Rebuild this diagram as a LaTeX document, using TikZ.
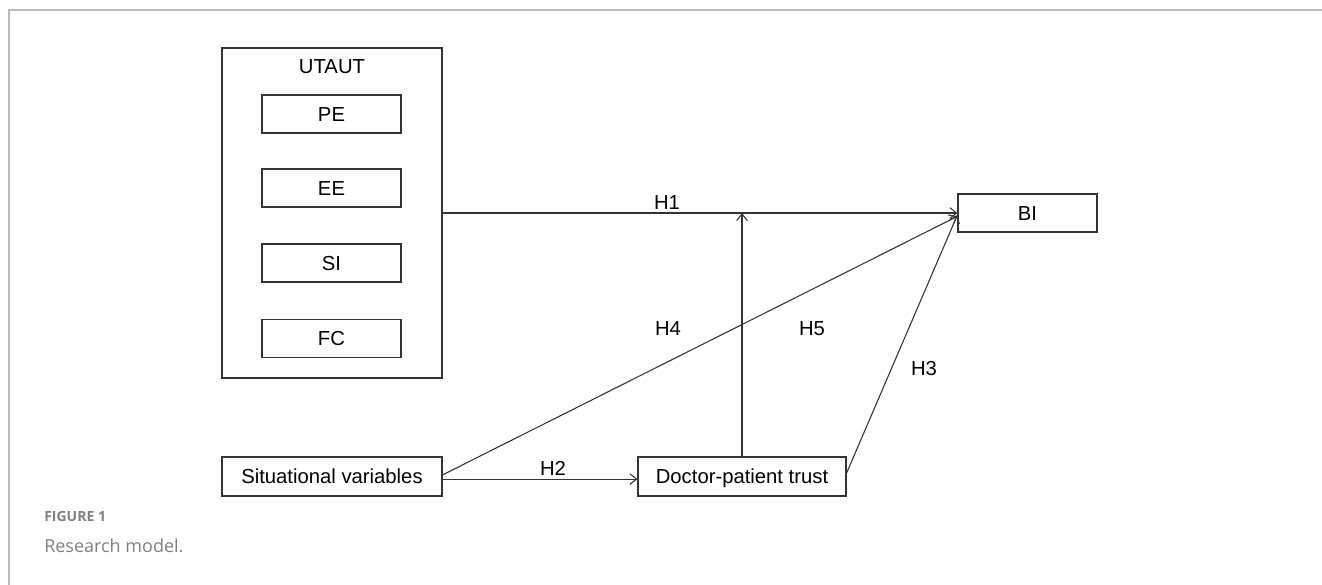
\documentclass[tikz,border=0pt]{standalone}
\usepackage{fontspec}
\setmainfont{Liberation Sans}
\newfontfamily\capfont{Open Sans}
\usetikzlibrary{arrows.meta}
\definecolor{ln}{HTML}{333333}
\definecolor{framec}{HTML}{BBBBBB}
\definecolor{capc}{HTML}{808080}
\tikzset{
  box/.style={draw=ln, line width=0.9pt, rectangle, inner sep=0pt, minimum width=104.25pt, minimum height=28.5pt, text height=10.9pt, text depth=0pt, font=\fontsize{15.2}{18}\selectfont},
  lbl/.style={inner sep=0pt, text height=10.9pt, text depth=0pt, font=\fontsize{15.2}{18}\selectfont},
  conn/.style={draw=ln, line width=0.8pt, -{Straight Barb[length=5pt,width=8pt]}},
}
\begin{document}
\begin{tikzpicture}[x=0.75pt, y=-0.75pt]
\useasboundingbox (0,0) rectangle (1322,585);
\draw[framec, line width=1.5pt] (9,585) -- (9,10) -- (1322,10);
% UTAUT group
\node[box, minimum width=165pt, minimum height=247.5pt] (utaut) at (332,213) {};
\node[lbl] (utautlbl) at (332,66) {UTAUT};
\node[box] (pe) at (331.5,114) {PE};
\node[box] (ee) at (331.5,188) {EE};
\node[box] (si) at (331.5,263) {SI};
\node[box] (fc) at (331.5,338.5) {FC};
% other constructs
\node[box] (bi) at (1027.5,213) {BI};
\node[box, minimum width=165pt, minimum height=29.25pt] (sv) at (332,476.5) {Situational variables};
\node[box, minimum width=156pt, minimum height=29.25pt] (dpt) at (742,476.5) {Doctor-patient trust};
\coordinate (mod) at (742,213);
% connectors
\draw[conn] (utaut.east) -- (bi.west);
\draw[conn] (dpt.north) -- (mod);
\draw[conn] ([yshift=1.2pt]sv.east) -- ([yshift=-2.5pt]bi.west);
\draw[conn] ([yshift=-1.9pt]sv.east) -- ([yshift=-1.9pt]dpt.west);
\draw[conn] ([yshift=2.6pt]dpt.east) -- ([yshift=-1.5pt]bi.west);
% labels
\node[lbl] (h1) at (667,202) {H1};
\node[lbl] (h2) at (553,468) {H2};
\node[lbl] (h4) at (668,328) {H4};
\node[lbl] (h5) at (812,328) {H5};
\node[lbl] (h3) at (924,368) {H3};
% caption
\node[anchor=west, inner sep=0pt, text=capc, font=\capfont\fontsize{10.5}{12}\selectfont\bfseries] (figno) at (44,516) {FIGURE 1};
\node[anchor=west, inner sep=0pt, text=capc, font=\capfont\fontsize{13.5}{16}\selectfont] (figcap) at (44,546) {Research model.};
\end{tikzpicture}
\end{document}
